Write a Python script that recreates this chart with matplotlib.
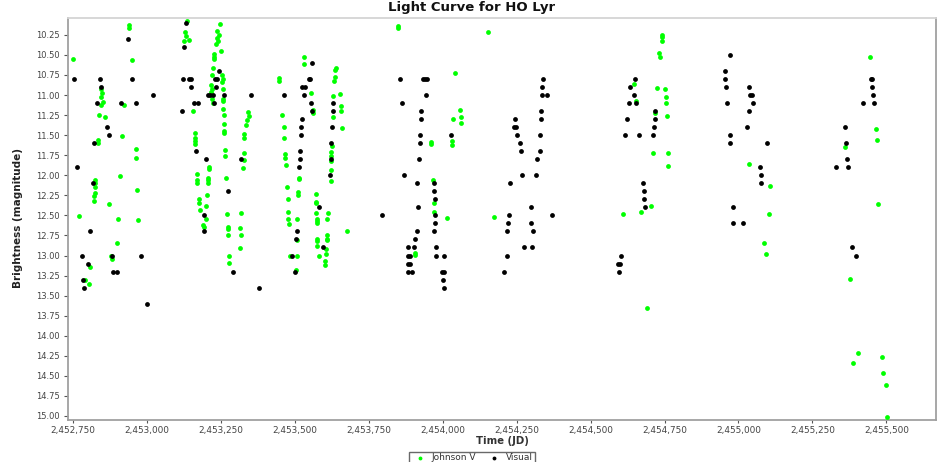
import matplotlib
matplotlib.use("Agg")
import matplotlib.pyplot as plt
from matplotlib.ticker import FuncFormatter, MultipleLocator

# Johnson V observations (green)
jv_jd = [
    2452749, 2452770, 2452791, 2452805, 2452806,
    2452823, 2452823, 2452823, 2452823, 2452822, 2452822,
    2452833, 2452833, 2452838,
    2452845, 2452847, 2452846, 2452850, 2452843,
    2452857, 2452871, 2452879, 2452881, 2452898, 2452903, 2452909,
    2452916, 2452921, 2452939, 2452940, 2452948, 2452963, 2452964,
    2452966, 2452971,
    2453134, 2453130, 2453131, 2453141, 2453126, 2453155,
    2453161, 2453161, 2453162, 2453162,
    2453168, 2453169, 2453170, 2453175, 2453177, 2453181,
    2453191, 2453194, 2453200, 2453201, 2453204,
    2453207, 2453206, 2453205, 2453209, 2453210,
    2453218, 2453219, 2453218, 2453220, 2453222,
    2453220, 2453224, 2453226, 2453227, 2453226,
    2453246, 2453238, 2453243, 2453236, 2453241, 2453234, 2453249,
    2453255, 2453256, 2453255, 2453256, 2453258, 2453257,
    2453258, 2453259, 2453262, 2453262, 2453262, 2453263, 2453264,
    2453268, 2453271, 2453273, 2453273, 2453275, 2453278, 2453278,
    2453314, 2453315, 2453317, 2453318, 2453325, 2453327, 2453327,
    2453328, 2453328, 2453335, 2453337, 2453343, 2453344,
    2453446, 2453447, 2453458, 2453463, 2453465,
    2453468, 2453468, 2453470, 2453474, 2453476, 2453478, 2453478,
    2453479, 2453484, 2453504, 2453506, 2453506, 2453508,
    2453512, 2453512, 2453513, 2453513, 2453531, 2453532,
    2453556, 2453561, 2453561, 2453571, 2453571, 2453572,
    2453573, 2453574, 2453574, 2453575, 2453576, 2453576, 2453576,
    2453582, 2453603, 2453603, 2453606, 2453606,
    2453608, 2453608, 2453610, 2453610, 2453611,
    2453621, 2453621, 2453623, 2453623, 2453621, 2453625, 2453628,
    2453630, 2453634, 2453635, 2453637, 2453640, 2453654,
    2453656, 2453657, 2453661, 2453677,
    2453848, 2453848, 2453908, 2453908, 2453961, 2453961,
    2453966, 2453970, 2453971, 2454015, 2454032, 2454033,
    2454035, 2454042, 2454059, 2454061, 2454062, 2454152, 2454175,
    2454611, 2454646, 2454653, 2454672, 2454690, 2454706, 2454712,
    2454718, 2454723, 2454733, 2454736, 2454740, 2454742, 2454741,
    2454753, 2454754, 2454755, 2454757, 2454762, 2454763,
    2455034, 2455088, 2455093, 2455103, 2455107,
    2455359, 2455378, 2455389, 2455403, 2455446, 2455466, 2455467,
    2455472, 2455487, 2455488, 2455498, 2455502,
]
jv_mag = [
    10.55, 12.51, 13.30, 13.36, 13.14,
    12.06, 12.10, 12.14, 12.22, 12.26, 12.32,
    11.56, 11.60, 11.25,
    10.93, 10.98, 11.03, 11.09, 11.13,
    11.28, 12.36, 13.00, 13.04, 12.85, 12.54, 12.01,
    11.51, 11.12, 10.13, 10.16, 10.56, 11.67, 11.78,
    12.18, 12.56,
    10.08, 10.22, 10.27, 10.32, 10.33, 11.20,
    11.47, 11.54, 11.57, 11.61,
    11.98, 12.06, 12.10, 12.29, 12.34, 12.43,
    12.62, 12.64, 12.54, 12.38, 12.24,
    12.03, 12.06, 12.10, 11.90, 11.92,
    10.88, 10.92, 10.96, 11.05, 11.10,
    10.75, 10.66, 10.49, 10.52, 10.55,
    10.11, 10.20, 10.25, 10.29, 10.33, 10.36, 10.45,
    10.75, 10.80, 10.84, 10.92, 11.05, 11.07,
    11.18, 11.25, 11.36, 11.45, 11.47, 11.68, 11.76,
    12.03, 12.48, 12.64, 12.67, 12.75, 13.01, 13.09,
    12.91, 12.66, 12.74, 12.47, 11.91, 11.81, 11.72,
    11.48, 11.54, 11.37, 11.31, 11.21, 11.26,
    10.79, 10.83, 11.25, 11.40, 11.53,
    11.73, 11.79, 11.87, 12.15, 12.29, 12.46, 12.54,
    12.61, 13.00, 13.18, 12.81, 13.00, 12.54,
    12.21, 12.25, 12.03, 12.05, 10.61, 10.53,
    10.98, 11.19, 11.23, 12.23, 12.33, 12.35,
    12.47, 12.54, 12.57, 12.60, 12.80, 12.82, 12.88,
    13.00, 13.07, 13.12, 12.92, 12.98,
    12.79, 12.81, 12.75, 12.55, 12.47,
    11.93, 12.07, 11.71, 11.76, 11.82, 11.63, 11.28,
    11.01, 10.83, 10.78, 10.69, 10.66, 10.99,
    11.14, 11.20, 11.41, 12.70,
    10.14, 10.16, 12.97, 12.99, 11.58, 11.61,
    12.06, 12.35, 12.46, 12.53, 11.62, 11.57,
    11.30, 10.73, 11.19, 11.27, 11.35, 10.21, 12.52,
    12.48, 10.86, 11.07, 12.46, 13.66, 12.38, 11.72,
    11.23, 10.91, 10.48, 10.53, 10.28, 10.25, 10.33,
    10.93, 11.02, 11.10, 11.26, 11.72, 11.88,
    11.86, 12.84, 12.98, 12.48, 12.13,
    11.65, 13.29, 14.34, 14.22, 10.53, 11.42, 11.56,
    12.36, 14.27, 14.46, 14.62, 15.01,
]

# Visual observations (black)
vis_jd = [
    2452754, 2452765, 2452779, 2452783, 2452788, 2452800, 2452809,
    2452819, 2452820, 2452831, 2452841, 2452846, 2452864, 2452871,
    2452881, 2452886, 2452898, 2452912, 2452936, 2452948, 2452962,
    2452981, 2452999, 2453022,
    2453117, 2453123, 2453126, 2453131, 2453142, 2453148, 2453149,
    2453160, 2453172, 2453165, 2453193, 2453194, 2453200,
    2453207, 2453213, 2453223, 2453227, 2453230, 2453236, 2453233,
    2453244, 2453262, 2453275, 2453292, 2453318, 2453352, 2453379,
    2453463, 2453490, 2453502, 2453504, 2453506, 2453514, 2453518,
    2453519, 2453520, 2453521, 2453524, 2453523, 2453533, 2453530,
    2453548, 2453552, 2453555, 2453557, 2453559, 2453583, 2453594,
    2453619, 2453622, 2453622, 2453627, 2453629, 2453630,
    2453796, 2453855, 2453861, 2453869,
    2453881, 2453881, 2453882, 2453883, 2453890, 2453890, 2453895,
    2453903, 2453905, 2453912, 2453914, 2453916, 2453921, 2453922,
    2453924, 2453927, 2453928, 2453935, 2453940, 2453946, 2453943,
    2453969, 2453971, 2453971, 2453973, 2453974, 2453975, 2453976,
    2453979, 2453997, 2454002, 2454003, 2454005, 2454006, 2454028,
    2454208, 2454217, 2454219, 2454221, 2454225, 2454229, 2454241,
    2454246, 2454248, 2454250, 2454262, 2454264, 2454268, 2454275,
    2454298, 2454298, 2454302, 2454307, 2454316, 2454318, 2454328,
    2454330, 2454332, 2454334, 2454335, 2454337, 2454340, 2454353,
    2454370,
    2454594, 2454597, 2454600, 2454602, 2454617, 2454622, 2454629,
    2454633, 2454647, 2454650, 2454655, 2454663, 2454678, 2454680,
    2454681, 2454683, 2454712, 2454714, 2454717, 2454718,
    2454954, 2454955, 2454959, 2454960, 2454970, 2454971, 2454972,
    2454980, 2454982, 2455017, 2455030, 2455036, 2455037, 2455040,
    2455045, 2455048, 2455074, 2455075, 2455077, 2455098,
    2455331, 2455359, 2455365, 2455368, 2455372, 2455383, 2455396,
    2455422, 2455448, 2455452, 2455451, 2455456, 2455458,
]
vis_mag = [
    10.8, 11.9, 13.0, 13.3, 13.4, 13.1, 12.7,
    12.1, 11.6, 11.1, 10.8, 10.9, 11.4, 11.5,
    13.0, 13.2, 13.2, 11.1, 10.3, 10.8, 11.1,
    13.0, 13.6, 11.0,
    11.2, 10.8, 10.4, 10.1, 10.8, 10.8, 10.9,
    11.1, 11.1, 11.7, 12.7, 12.5, 11.8,
    11.0, 11.0, 11.0, 11.1, 10.8, 10.8, 10.9,
    10.7, 11.0, 12.2, 13.2, 11.8, 11.0, 13.4,
    11.0, 13.0, 13.2, 12.8, 12.7, 11.9, 11.8,
    11.7, 11.5, 11.4, 11.3, 10.9, 10.9, 11.0,
    10.8, 10.8, 11.1, 11.2, 10.6, 12.4, 12.9,
    12.0, 11.6, 11.8, 11.4, 11.2, 11.1,
    12.5, 10.8, 11.1, 12.0,
    12.9, 13.0, 13.1, 13.2, 13.0, 13.1, 13.2,
    12.9, 12.8, 12.1, 12.7, 12.4, 11.8, 11.6,
    11.5, 11.3, 11.2, 10.8, 10.8, 10.8, 11.0,
    12.1, 12.2, 12.7, 12.3, 12.6, 12.5, 12.9,
    13.0, 13.2, 13.3, 13.4, 13.2, 13.0, 11.5,
    13.2, 12.7, 13.0, 12.6, 12.5, 12.1, 11.4,
    11.3, 11.4, 11.5, 11.6, 11.7, 12.0, 12.9,
    12.4, 12.6, 12.9, 12.7, 12.0, 11.8, 11.7,
    11.5, 11.3, 11.2, 11.0, 10.9, 10.8, 11.0,
    12.5,
    13.1, 13.2, 13.1, 13.0, 11.5, 11.3, 11.1,
    10.9, 11.0, 10.8, 11.1, 11.5, 12.1, 12.2,
    12.3, 12.4, 11.5, 11.4, 11.3, 11.2,
    10.8, 10.7, 10.9, 11.1, 10.5, 11.5, 11.6,
    12.4, 12.6, 12.6, 11.4, 10.9, 11.2, 11.0,
    11.0, 11.1, 11.9, 12.1, 12.0, 11.6,
    11.9, 11.4, 11.6, 11.8, 11.9, 12.9, 13.0,
    11.1, 10.8, 10.8, 10.9, 11.0, 11.1,
]

x_ticks = [2452750, 2453000, 2453250, 2453500, 2453750, 2454000,
           2454250, 2454500, 2454750, 2455000, 2455250, 2455500]


def make_plot():
    fig = plt.figure(figsize=(9.39, 4.62), dpi=100)
    ax = fig.add_axes([68 / 939, 1 - 420 / 462, 868 / 939, 402 / 462])

    ax.scatter(jv_jd, jv_mag, s=12, color='#00ff00', marker='o',
               linewidths=0, label='Johnson V', zorder=3)
    ax.scatter(vis_jd, vis_mag, s=12, color='black', marker='o',
               linewidths=0, label='Visual', zorder=3)

    ax.set_xlim(2452733, 2455668)
    ax.set_ylim(15.05, 10.04)

    ax.set_xticks(x_ticks)
    ax.xaxis.set_major_formatter(FuncFormatter(lambda v, p: f"{int(round(v)):,}"))
    ax.yaxis.set_major_locator(MultipleLocator(0.25))
    ax.yaxis.set_major_formatter(FuncFormatter(lambda v, p: f"{v:.2f}"))
    ax.tick_params(axis='x', labelsize=6.4, colors='#555555', length=2, width=0.8, pad=2.5)
    ax.tick_params(axis='y', labelsize=6.0, colors='#555555', length=3, width=0.8, pad=3)
    for lbl in ax.get_xticklabels() + ax.get_yticklabels():
        lbl.set_color('#444444')

    for side in ['left', 'bottom', 'right']:
        ax.spines[side].set_color('#a0a0a0')
        ax.spines[side].set_linewidth(1.3)
    ax.spines['top'].set_color('#d4d4d4')
    ax.spines['top'].set_linewidth(1.3)

    fig.text(0.502, 1 - 7 / 462, 'Light Curve for HO Lyr', ha='center', va='center',
             fontsize=9.5, fontweight='bold', color='#111111')
    fig.text(502 / 939, 1 - 441 / 462, 'Time (JD)', ha='center', va='center',
             fontsize=7.3, fontweight='bold', color='#333333')
    fig.text(18 / 939, 1 - 218 / 462, 'Brightness (magnitude)', ha='center', va='center',
             rotation=90, fontsize=7.5, fontweight='bold', color='#222222',
             family=['Liberation Sans Narrow', 'DejaVu Sans'])

    leg = fig.legend(loc='upper center', bbox_to_anchor=(472 / 939, 1 - 447 / 462),
                     ncol=2, fontsize=6.5, frameon=True, fancybox=False,
                     handletextpad=0.3, columnspacing=1.0, borderpad=0.2,
                     markerscale=0.8, scatterpoints=1)
    leg.get_frame().set_edgecolor('#444444')
    leg.get_frame().set_linewidth(1.0)
    for t in leg.get_texts():
        t.set_color('#333333')

    fig.savefig('out.png', dpi=100)


if __name__ == '__main__':
    make_plot()
